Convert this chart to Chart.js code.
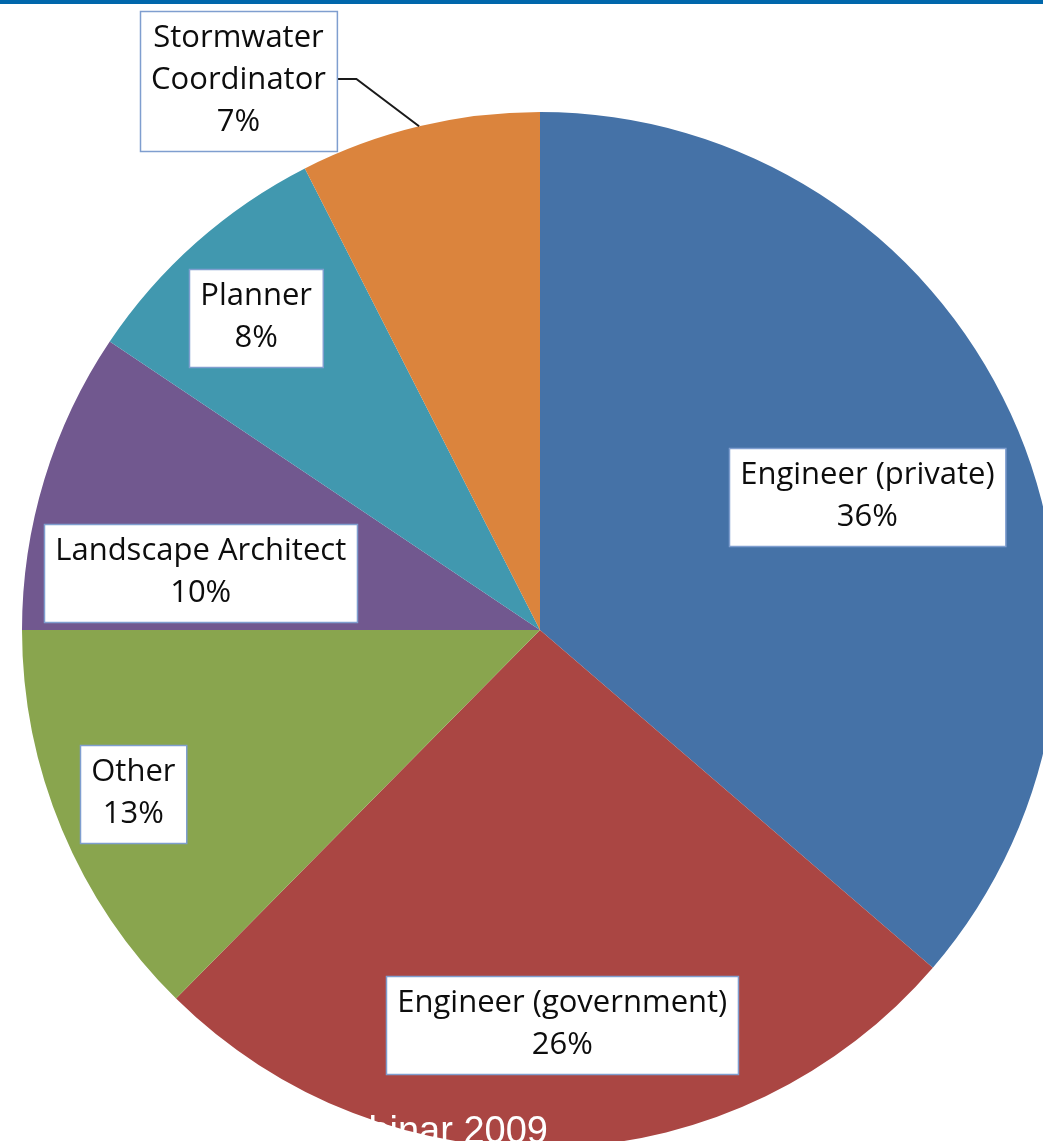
<!DOCTYPE html>
<html>
<head>
<meta charset="utf-8">
<script src="https://cdn.jsdelivr.net/npm/chart.js@4.4.0/dist/chart.umd.min.js"></script>
<style>
  html, body { margin: 0; padding: 0; background: #fff; }
  body { width: 1043px; height: 1141px; overflow: hidden; position: relative; }
  #topBar { position: absolute; left: 0; top: 0; width: 1043px; height: 4px; background: #0067ab; z-index: 2; }
  #wrap { position: absolute; left: 0; top: 0; width: 1100px; height: 1200px; }
</style>
</head>
<body>
<div id="topBar"></div>
<div id="wrap"><canvas id="pieChart" width="1100" height="1200"></canvas></div>
<script>
const categories = [
  ["Engineer (private)"],
  ["Engineer (government)"],
  ["Other"],
  ["Landscape Architect"],
  ["Planner"],
  ["Stormwater", "Coordinator"],
];
const shares = [36.3, 26.1, 12.6, 9.4, 8.1, 7.5];
const shownPercent = ["36%", "26%", "13%", "10%", "8%", "7%"];
const sliceColors = ["#4572a7", "#aa4643", "#89a54e", "#71588f", "#4198af", "#db843d"];

// label box centres, as fractions of the radius from the pie centre
const labelOffsets = [
  [0.632, -0.256],
  [0.043, 0.763],
  [-0.785, 0.317],
  [-0.655, -0.110],
  [-0.548, -0.602],
  [-0.582, -1.060],
];
const leaderFor = 5;

const labelPlugin = {
  id: "boxLabels",
  afterDraw(chart) {
    const ctx = chart.ctx;
    const arcs = chart.getDatasetMeta(0).data;
    ctx.save();
    ctx.font = "31px 'Open Sans'";
    ctx.textAlign = "center";
    ctx.textBaseline = "middle";
    const lineH = 42;

    arcs.forEach((arc, i) => {
      const { x, y, outerRadius, startAngle, endAngle } = arc.getProps(
        ["x", "y", "outerRadius", "startAngle", "endAngle"], true);
      const lines = categories[i].concat([shownPercent[i]]);
      const cx = x + labelOffsets[i][0] * outerRadius;
      const cy = y + labelOffsets[i][1] * outerRadius;
      const w = Math.max(...lines.map((l) => ctx.measureText(l).width)) + 22;
      const h = lines.length * lineH + 14;
      const left = Math.round(cx - w / 2) + 0.5;
      const top = Math.round(cy - h / 2) + 0.5;

      if (i === leaderFor) {
        const mid = (startAngle + endAngle) / 2;
        const ex = x + Math.cos(mid) * outerRadius;
        const ey = y + Math.sin(mid) * outerRadius;
        ctx.strokeStyle = "#1a1a1a";
        ctx.lineWidth = 2;
        ctx.beginPath();
        ctx.moveTo(left + w, cy - 2);
        ctx.lineTo(left + w + 19, cy - 2);
        ctx.lineTo(ex, ey);
        ctx.stroke();
      }

      ctx.fillStyle = "#fff";
      ctx.fillRect(left, top, w, h);
      ctx.strokeStyle = "#7f9ecf";
      ctx.lineWidth = 1.5;
      ctx.strokeRect(left, top, w, h);

      ctx.fillStyle = "#0d0d0d";
      const firstY = cy - ((lines.length - 1) * lineH) / 2 - 1;
      lines.forEach((l, k) => ctx.fillText(l, cx, firstY + k * lineH));
    });

    // slide footer text in white, only visible where it crosses the pie
    ctx.font = "38px 'Liberation Sans', Arial, sans-serif";
    ctx.textAlign = "right";
    ctx.textBaseline = "alphabetic";
    ctx.fillStyle = "#fff";
    ctx.fillText("Webinar 2009", 548, 1143);
    ctx.restore();
  },
};

new Chart(document.getElementById("pieChart"), {
  type: "pie",
  data: {
    labels: categories,
    datasets: [
      {
        data: shares,
        backgroundColor: sliceColors,
        borderWidth: 0,
      },
    ],
  },
  options: {
    responsive: false,
    animation: false,
    layout: { padding: { left: 22, right: 42, top: 112, bottom: 52 } },
    plugins: {
      legend: { display: false },
      tooltip: { enabled: false },
    },
  },
  plugins: [labelPlugin],
});
</script>
</body>
</html>
